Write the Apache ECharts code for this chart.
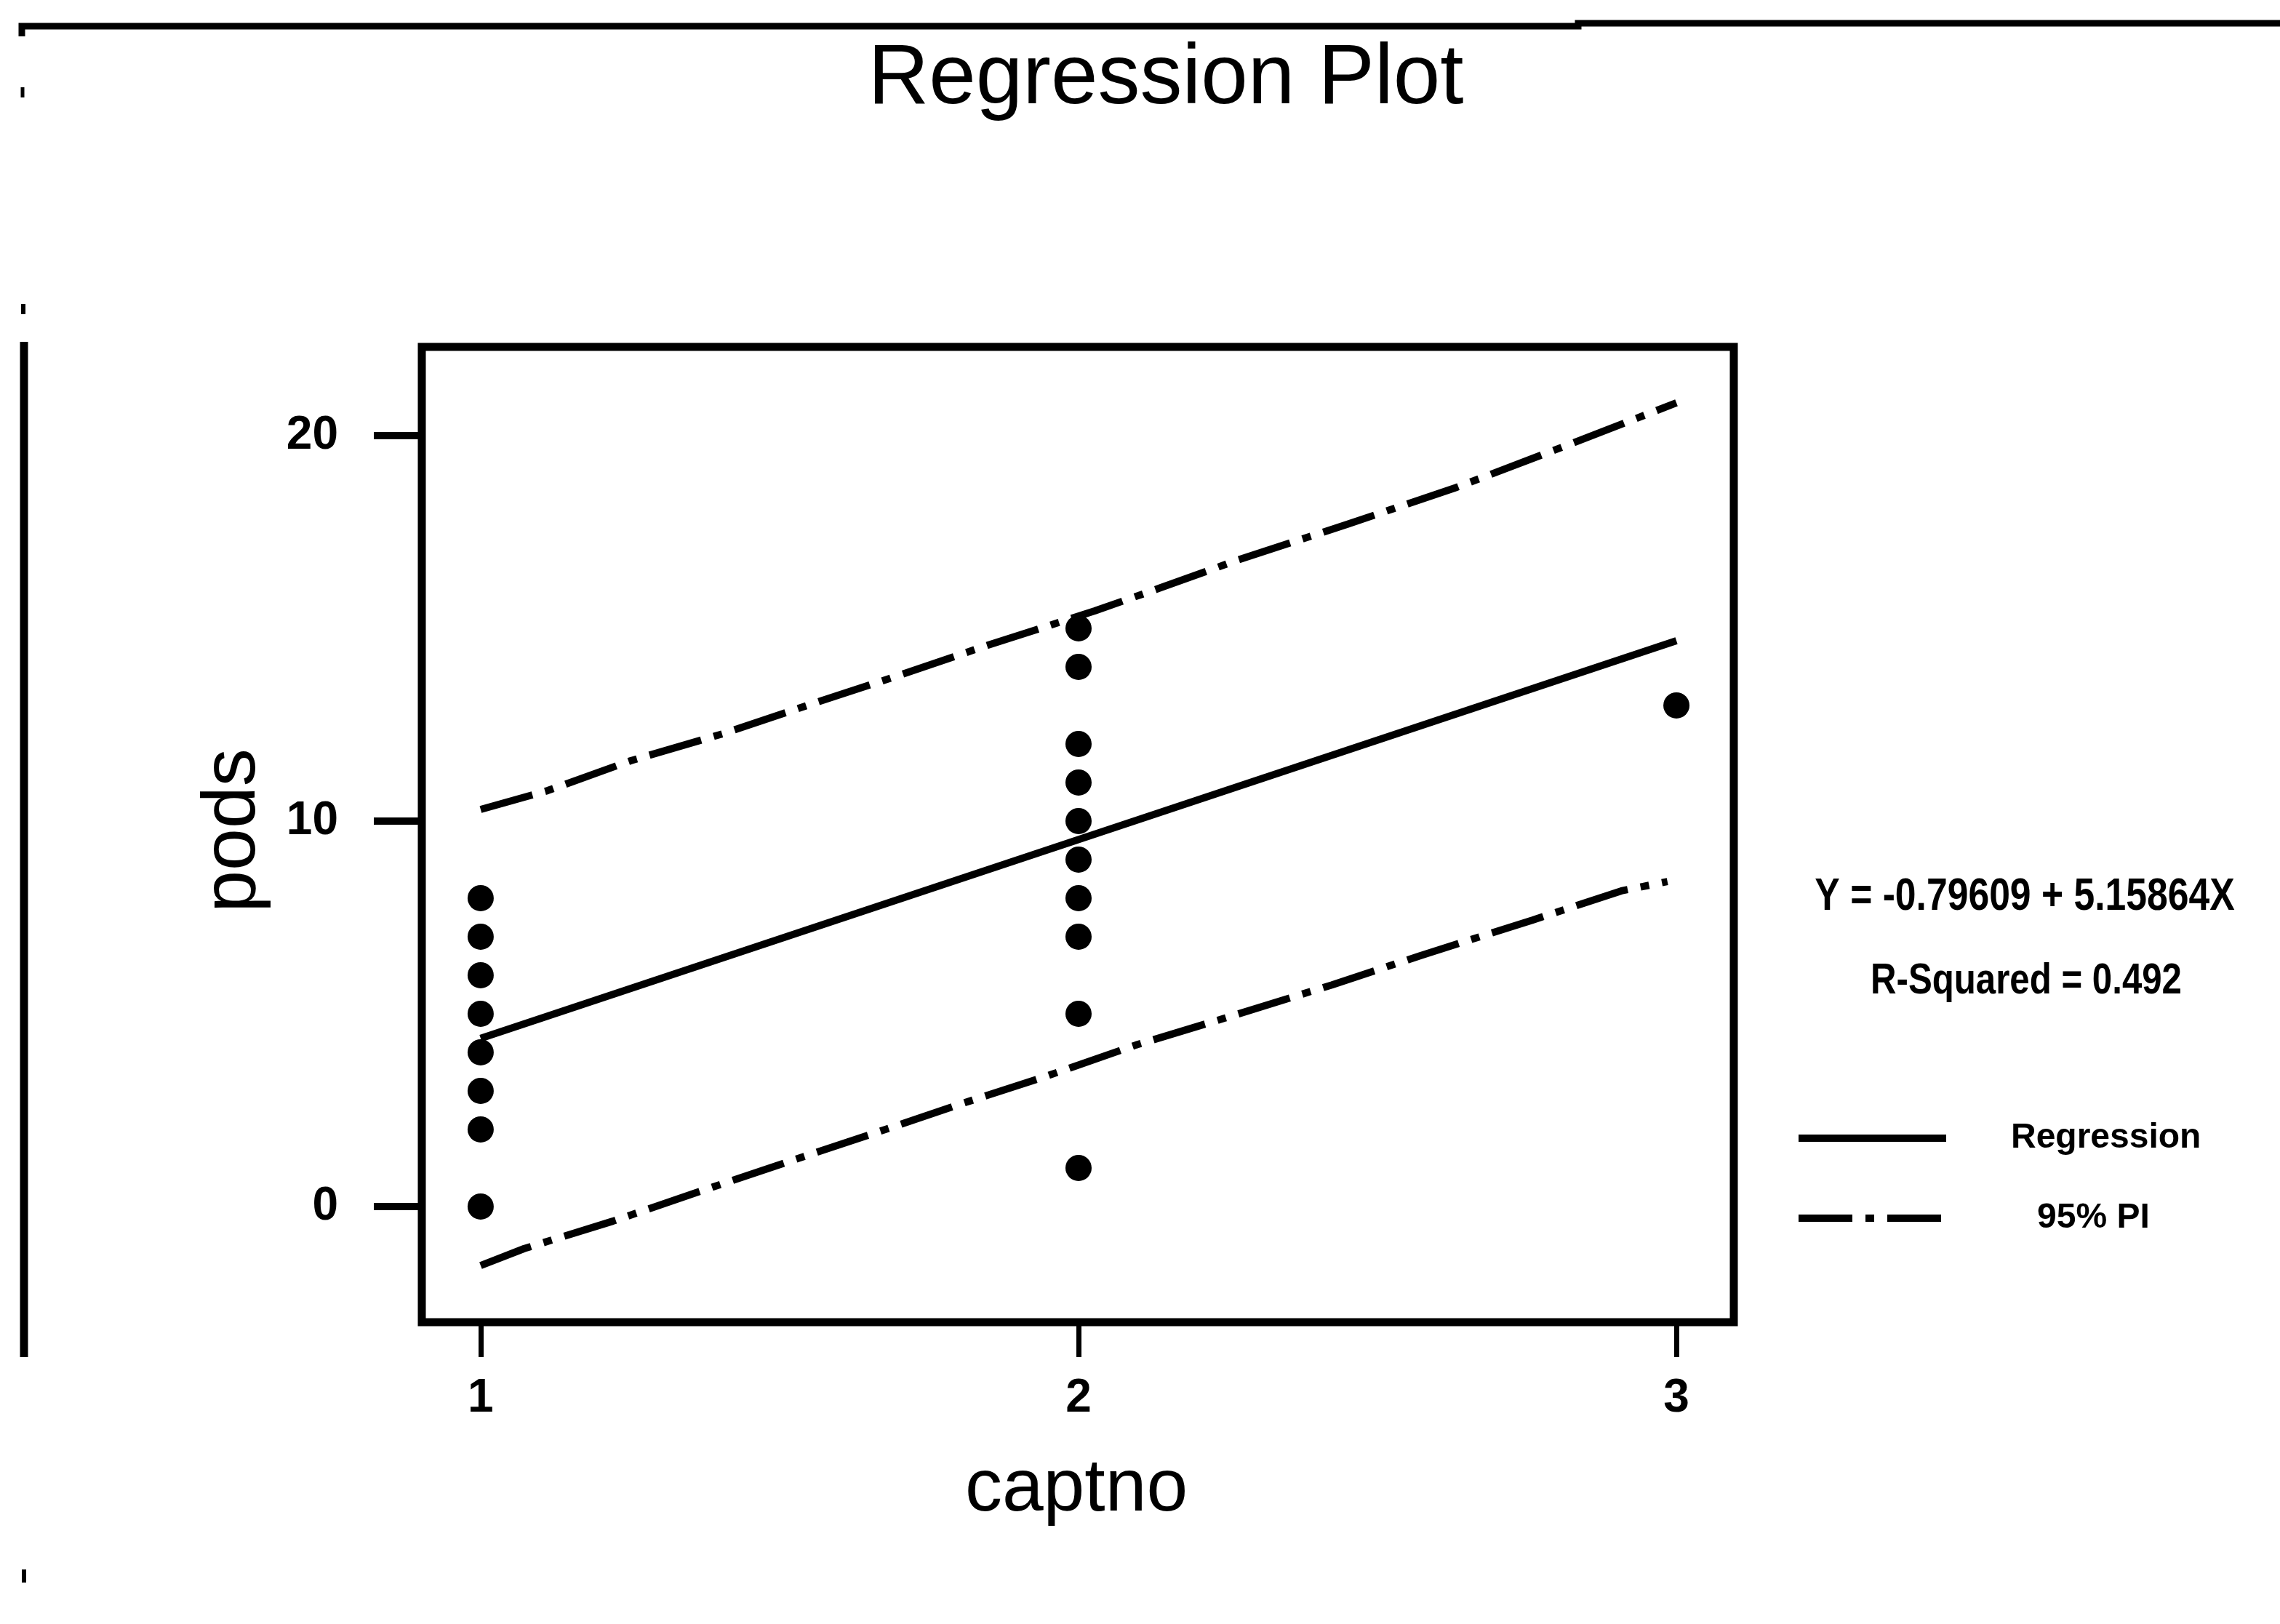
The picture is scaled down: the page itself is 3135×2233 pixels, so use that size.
<!DOCTYPE html>
<html>
<head>
<meta charset="utf-8">
<script src="https://cdn.jsdelivr.net/npm/echarts@6/dist/echarts.min.js"></script>
<style>
  html, body { margin: 0; padding: 0; background: #fff; }
  #chart { width: 3135px; height: 2233px; }
</style>
</head>
<body>
<div id="chart"></div>
<script>
// Observations: number of pods for each captno
const captno = [1, 1, 1, 1, 1, 1, 1, 1, 2, 2, 2, 2, 2, 2, 2, 2, 2, 2, 3];
const pods   = [8, 7, 6, 5, 4, 3, 2, 0, 15, 14, 12, 11, 10, 9, 8, 7, 5, 1, 13];

// Fitted regression: Y = intercept + slope * X
const intercept = -0.79609;
const slope = 5.15864;
const rSquared = 0.492;
const fitRange = [1, 3];

// 95% prediction interval bounds
const piUpperX = [1, 1.112, 1.252, 1.404, 1.55, 1.698, 1.842, 2.027, 2.135, 2.266, 2.45, 2.631, 2.826, 3];
const piUpperY = [10.30, 10.79, 11.57, 12.26, 13.02, 13.77, 14.53, 15.45, 16.04, 16.77, 17.7, 18.65, 19.8, 20.85];
const piLowerX = [1, 1.073, 1.221, 1.36, 1.516, 1.656, 1.803, 1.946, 2.096, 2.245, 2.424, 2.572, 2.759, 2.908, 2.985];
const piLowerY = [-1.53, -1.09, -0.38, 0.36, 1.17, 1.89, 2.66, 3.38, 4.19, 4.89, 5.75, 6.51, 7.43, 8.19, 8.43];

// Axis ticks
const xTicks = [1, 2, 3];
const yTicks = [0, 10, 20];

const sans = "'Liberation Sans', Arial, sans-serif";
const dashDot = [74, 18, 12, 18];
const lineW = 10;

const zip = (xs, ys) => xs.map((x, i) => [x, ys[i]]);
const fitLine = fitRange.map(x => [x, intercept + slope * x]);
const equation = 'Y = ' + intercept.toFixed(5) + ' + ' + slope.toFixed(5) + 'X';

const chart = echarts.init(document.getElementById('chart'), null, { renderer: 'canvas' });

const labelFont = { color: '#000', fontFamily: sans, fontWeight: 'bold', fontSize: 64 };

function legendBlock(name, centerY, textPad) {
  return {
    data: [{ name: name }],
    left: 2468, top: centerY - 35, padding: 0,
    itemWidth: 203, itemHeight: 20, selectedMode: false,
    itemStyle: { opacity: 0 },
    lineStyle: { width: lineW, color: '#000', type: 'inherit', cap: 'butt' },
    textStyle: { color: '#000', fontFamily: sans, fontWeight: 'bold', fontSize: 48, lineHeight: 70, padding: [0, 0, 0, textPad] }
  };
}

// condensed-looking bold annotation text
function statText(text, x, y, size) {
  return {
    type: 'text', x: x, y: y, scaleX: 0.82,
    style: { text: text, fill: '#000', font: 'bold ' + size + 'px ' + sans, align: 'center', verticalAlign: 'middle' }
  };
}

chart.setOption({
  backgroundColor: '#fff',
  animation: false,
  grid: {
    left: 580, right: 751, top: 477, bottom: 415,
    show: true, borderColor: '#000', borderWidth: 11, backgroundColor: 'transparent'
  },
  xAxis: {
    type: 'value', min: 0.9016, max: 3.096,
    axisLine: { show: false, onZero: false },
    splitLine: { show: false },
    axisTick: { show: true, length: 48, customValues: xTicks, lineStyle: { color: '#000', width: 7 } },
    axisLabel: Object.assign({ customValues: xTicks, margin: 73 }, labelFont)
  },
  yAxis: {
    type: 'value', min: -3.0, max: 22.3,
    axisLine: { show: false, onZero: false },
    splitLine: { show: false },
    axisTick: { show: true, length: 66, customValues: yTicks, lineStyle: { color: '#000', width: 10 } },
    axisLabel: Object.assign({ customValues: yTicks, margin: 115 }, labelFont)
  },
  legend: [
    legendBlock('Regression', 1565, 84),
    legendBlock('95% PI', 1675, 120)
  ],
  graphic: [
    // page frame fragments
    { type: 'polyline', shape: { points: [[30, 50], [30, 36], [2170, 36], [2170, 32], [3135, 32]] }, style: { stroke: '#000', lineWidth: 9, fill: null }, silent: true },
    { type: 'line', shape: { x1: 33, y1: 470, x2: 33, y2: 1866 }, style: { stroke: '#000', lineWidth: 11 }, silent: true },
    { type: 'line', shape: { x1: 32, y1: 418, x2: 32, y2: 432 }, style: { stroke: '#000', lineWidth: 6 }, silent: true },
    { type: 'line', shape: { x1: 31, y1: 120, x2: 31, y2: 134 }, style: { stroke: '#000', lineWidth: 5 }, silent: true },
    { type: 'line', shape: { x1: 33, y1: 2158, x2: 33, y2: 2176 }, style: { stroke: '#000', lineWidth: 6 }, silent: true },
    // title
    { type: 'text', x: 1603, y: 110, style: { text: 'Regression Plot', fill: '#000', font: '116px ' + sans, align: 'center', verticalAlign: 'middle' } },
    // axis names
    { type: 'text', x: 1480, y: 2049, style: { text: 'captno', fill: '#000', font: '102px ' + sans, align: 'center', verticalAlign: 'middle' } },
    { type: 'text', x: 321, y: 1142, rotation: Math.PI / 2, style: { text: 'pods', fill: '#000', font: '104px ' + sans, align: 'center', verticalAlign: 'middle' } },
    // fit statistics
    statText(equation, 2784, 1234, 63),
    statText('R-Squared = ' + rSquared.toFixed(3), 2786, 1349, 60)
  ],
  series: [
    {
      name: 'pods', type: 'scatter', z: 4,
      symbol: 'circle', symbolSize: 36,
      itemStyle: { color: '#000', opacity: 1 },
      data: zip(captno, pods)
    },
    {
      name: 'Regression', type: 'line', z: 3,
      symbol: 'none', silent: true,
      lineStyle: { color: '#000', width: lineW, type: 'solid' },
      data: fitLine
    },
    {
      name: '95% PI', type: 'line', z: 3,
      symbol: 'none', silent: true,
      lineStyle: { color: '#000', width: lineW, type: dashDot, cap: 'butt' },
      data: zip(piUpperX, piUpperY)
    },
    {
      name: '95% PI', type: 'line', z: 3,
      symbol: 'none', silent: true,
      lineStyle: { color: '#000', width: lineW, type: dashDot, cap: 'butt' },
      data: zip(piLowerX, piLowerY)
    }
  ]
});
</script>
</body>
</html>
